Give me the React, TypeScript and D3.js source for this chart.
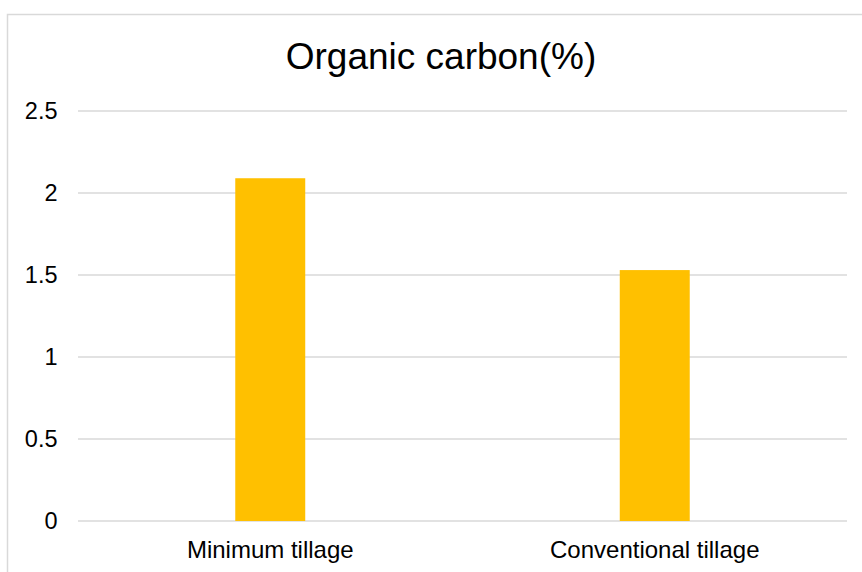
import React from 'react';
import * as d3 from 'd3';

const categories = ['Minimum tillage', 'Conventional tillage'];
const values = [2.09, 1.53];
const yTicks = [0, 0.5, 1, 1.5, 2, 2.5];
const title = 'Organic carbon(%)';

export default function App() {
  const width = 862;
  const height = 572;
  const plot = { left: 78, right: 847, top: 111, bottom: 521 };
  const font = 'Liberation Sans, Arial, sans-serif';

  const x = d3.scaleBand<string>()
    .domain(categories)
    .range([plot.left, plot.right])
    .padding(0);

  const y = d3.scaleLinear()
    .domain([0, 2.5])
    .range([plot.bottom, plot.top]);

  const barW = x.bandwidth() * 0.182;

  return (
    <div style={{ position: 'fixed', left: 0, top: 0 }}>
      <svg width={width} height={height} style={{ display: 'block', background: '#ffffff' }}>
        <rect x={7.5} y={14.5} width={880} height={600} fill="#ffffff" stroke="#d9d9d9" strokeWidth={1.5} />

        <text x={441} y={68.5} textAnchor="middle" fontFamily={font} fontSize={37} fill="#000000">
          {title}
        </text>

        {yTicks.map(t => (
          <g key={t}>
            <line x1={plot.left} x2={plot.right} y1={y(t)} y2={y(t)} stroke="#d9d9d9" strokeWidth={1.5} />
            <text x={57.5} y={y(t) + 7.5} textAnchor="end" fontFamily={font} fontSize={23.5} fill="#000000">
              {t}
            </text>
          </g>
        ))}

        {categories.map((c, i) => {
          const bx = (x(c) ?? 0) + (x.bandwidth() - barW) / 2;
          return (
            <rect key={c} x={bx} y={y(values[i])} width={barW} height={y(0) - y(values[i])} fill="#FFC000" />
          );
        })}

        {categories.map(c => (
          <text key={c} x={(x(c) ?? 0) + x.bandwidth() / 2} y={558} textAnchor="middle" fontFamily={font} fontSize={24} fill="#000000">
            {c}
          </text>
        ))}
      </svg>
    </div>
  );
}
